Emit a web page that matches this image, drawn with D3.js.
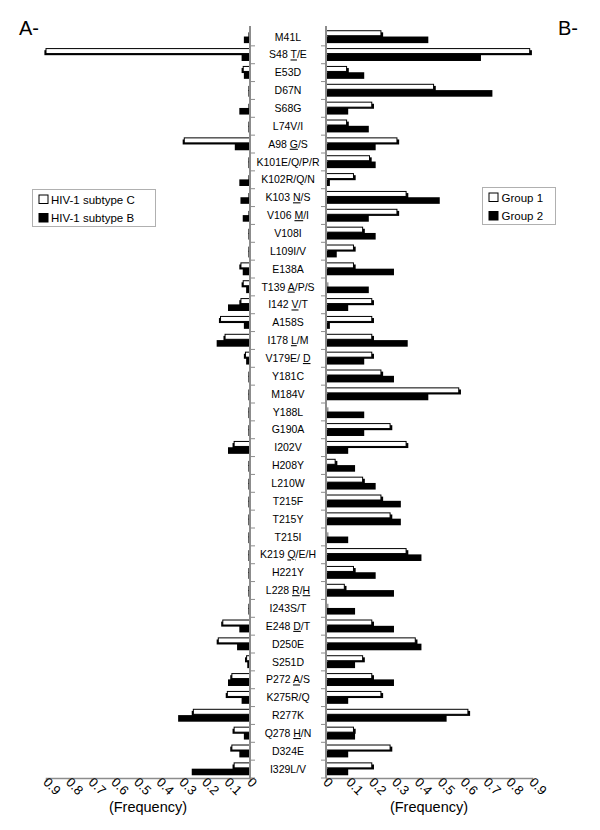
<!DOCTYPE html>
<html><head><meta charset="utf-8">
<script src="https://cdn.jsdelivr.net/npm/d3@7"></script>
<style>
html,body{margin:0;padding:0;background:#fff;}
svg{display:block;font-family:"Liberation Sans",Arial,sans-serif;}
</style></head>
<body>
<svg id="chart" width="600" height="830"></svg>
<script>
// ---- data ----
const categories = ["M41L","S48 [T]/E","E53D","D67N","S68G","L74V/I","A98 [G]/S","K101E/Q/P/R","K102R/Q/N",
 "K103 [N]/S","V106 [M]/I","V108I","L109I/V","E138A","T139 [A]/P/S","I142 [V]/T","A158S","I178 [L]/M",
 "V179E/ [D]","Y181C","M184V","Y188L","G190A","I202V","H208Y","L210W","T215F","T215Y","T215I",
 "K219 [Q]/E/H","H221Y","L228 [R]/[H]","I243S/T","E248 [D]/T","D250E","S251D","P272 [A]/S","K275R/Q",
 "R277K","Q278 [H]/N","D324E","I329L/V"];
const subtypeC = [0,0.9,0.03,0,0,0,0.29,0,0,0,0,0,0,0.04,0.03,0.04,0.13,0.11,0.02,0,0,0,0,0.07,0,0,0,0,0,
 0,0,0,0,0.12,0.14,0.015,0.08,0.1,0.25,0.07,0.08,0.07];
const subtypeB = [0.02,0.03,0.02,0,0.04,0,0.06,0,0.04,0.035,0.025,0,0,0.025,0.01,0.09,0.02,0.14,0.01,0,0,0,0,0.09,0,0,0,0,0,
 0,0,0,0,0.04,0.05,0.005,0.09,0.03,0.31,0.02,0.04,0.25];
const group1 = [0.24,0.89,0.09,0.47,0.2,0.09,0.31,0.19,0.12,0.35,0.31,0.16,0.12,0.12,0,0.2,0.2,0.2,0.2,0.24,0.58,
 0,0.28,0.35,0.04,0.16,0.24,0.28,0,0.35,0.12,0.08,0,0.2,0.39,0.16,0.2,0.24,0.62,0.12,0.28,0.2];
const group2 = [0.44,0.67,0.16,0.72,0.09,0.18,0.21,0.21,0.01,0.49,0.18,0.21,0.04,0.29,0.18,0.09,0.01,0.35,0.16,0.29,0.44,
 0.16,0.16,0.09,0.12,0.21,0.32,0.32,0.09,0.41,0.21,0.29,0.12,0.29,0.41,0.12,0.29,0.09,0.52,0.12,0.09,0.09];
const tickValues = [0,0.1,0.2,0.3,0.4,0.5,0.6,0.7,0.8,0.9];
const tickLabels = ["0","0.1","0.2","0.3","0.4","0.5","0.6","0.7","0.8","0.9"];
const legendA = ["HIV-1 subtype C","HIV-1 subtype B"];
const legendB = ["Group 1","Group 2"];
const axisTitle = "(Frequency)";

// ---- drawing ----
const svg = d3.select("#chart");
const gray = "#8c8c8c";
const y = d3.scaleBand().domain(categories).range([28, 778]).paddingInner(0).paddingOuter(0);
const xL = d3.scaleLinear().domain([0, 0.9]).range([250, 46]);
const xR = d3.scaleLinear().domain([0, 0.9]).range([326, 532]);
const mid = c => y(c) + y.bandwidth() / 2;
const barH = 5, sh = 1.6;

function drawPanel(x, dir, valsW, valsB) {
  const g = svg.append("g");
  const x0 = x(0);
  categories.forEach((c, i) => {
    const w = Math.abs(x(valsW[i]) - x0);
    const yy = mid(c) - 6.2;
    const left = dir > 0 ? x0 : x0 - w;
    g.append("rect").attr("x", dir > 0 ? left + sh : left - sh).attr("y", yy + sh)
      .attr("width", w + 0.6).attr("height", barH).attr("fill", "#000");
    if (w > 0.5) {
      g.append("rect").attr("x", left).attr("y", yy).attr("width", w).attr("height", barH)
        .attr("fill", "#fff").attr("stroke", "#000").attr("stroke-width", 1);
    }
  });
  categories.forEach((c, i) => {
    const w = Math.abs(x(valsB[i]) - x0);
    const yy = mid(c) - 0.4;
    const left = dir > 0 ? x0 : x0 - w;
    g.append("rect").attr("x", dir > 0 ? left : left - sh).attr("y", yy)
      .attr("width", w + sh).attr("height", barH + sh).attr("fill", "#000");
  });
  g.append("line").attr("x1", x0).attr("x2", x0).attr("y1", y.range()[0] - 2).attr("y2", y.range()[1])
    .attr("stroke", gray).attr("stroke-width", 2);
  categories.forEach(c => {
    const yy = y(c) + y.step();
    g.append("line").attr("x1", x0).attr("x2", x0 + (dir > 0 ? -5 : 5)).attr("y1", yy).attr("y2", yy)
      .attr("stroke", gray).attr("stroke-width", 1);
  });
  const ax = d3.axisBottom(x).tickValues(tickValues).tickSize(4)
    .tickFormat((d, i) => tickLabels[i]);
  const ag = g.append("g").attr("transform", `translate(0,${y.range()[1]})`).call(ax);
  ag.select(".domain").attr("stroke", gray).attr("stroke-width", 1.5);
  ag.selectAll(".tick line").attr("stroke", gray);
  ag.selectAll(".tick text").attr("y", 0).attr("x", 0).attr("dy", null)
    .attr("transform", "translate(-4,5) rotate(45)").attr("text-anchor", "start")
    .attr("font-size", 13).attr("fill", "#000").attr("font-family", "'Liberation Sans',Arial,sans-serif");
  const xm = (x.range()[0] + x.range()[1]) / 2;
  g.append("text").attr("x", xm).attr("y", 812).attr("text-anchor", "middle")
    .attr("font-size", 14.5).text(axisTitle);
}
drawPanel(xL, -1, subtypeC, subtypeB);
drawPanel(xR, 1, group1, group2);

categories.forEach(c => {
  const t = svg.append("text").attr("x", 288).attr("y", mid(c)).attr("dy", "0.35em")
    .attr("text-anchor", "middle").attr("font-size", 10.5).attr("fill", "#000");
  c.split(/(\[[^\]]+\])/).filter(s => s.length).forEach(part => {
    if (part[0] === "[") {
      t.append("tspan").text(part.slice(1, -1)).style("text-decoration", "underline");
    } else {
      t.append("tspan").text(part);
    }
  });
});

svg.append("text").attr("x", 19).attr("y", 35).attr("font-size", 20).text("A-");
svg.append("text").attr("x", 558).attr("y", 35).attr("font-size", 20).text("B-");

function legend(x, yTop, w, h, labels, tx) {
  const g = svg.append("g");
  g.append("rect").attr("x", x).attr("y", yTop).attr("width", w).attr("height", h)
    .attr("fill", "#fff").attr("stroke", "#b0b0b0").attr("stroke-width", 1);
  labels.forEach((l, i) => {
    const cy = yTop + 10 + i * 18.5;
    g.append("rect").attr("x", x + 6.5).attr("y", cy - 4.5).attr("width", 9).attr("height", 8.5)
      .attr("fill", i === 0 ? "#fff" : "#000").attr("stroke", "#000").attr("stroke-width", 1);
    g.append("text").attr("x", x + tx).attr("y", cy).attr("dy", "0.35em")
      .attr("font-size", 11.5).text(l);
  });
}
legend(32.5, 189.5, 123, 37, legendA, 18.5);
legend(482.5, 187.5, 73, 37, legendB, 19);
</script>
</body></html>
